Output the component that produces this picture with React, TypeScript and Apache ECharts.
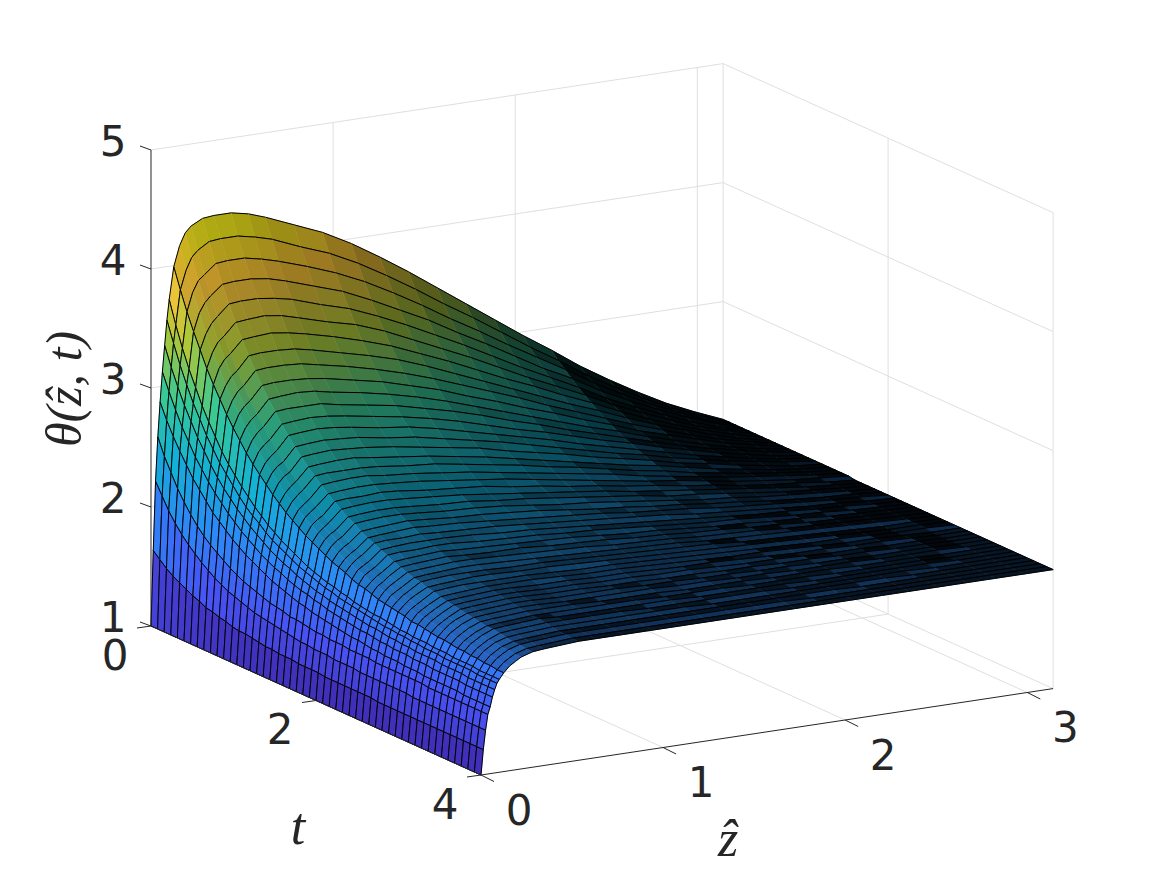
import React, { useEffect, useRef } from "react";
import * as echarts from "echarts";

// Axis ticks
const zTicks = [0, 1, 2, 3];
const tTicks = [0, 2, 4];
const thetaTicks = [1, 2, 3, 4, 5];
const zMax = Math.PI;
const tMax = 4;
const thetaMin = 1;
const thetaMax = 5;

// Mesh nodes
const zNodes = [0, 0.0125, 0.025, 0.0375, 0.05, 0.0625, 0.075, 0.0875, 0.1, 0.125, 0.157, 0.188, 0.22, 0.283, 0.346, 0.44, 0.534, 0.628, 0.785, 0.942, 1.1, 1.257, 1.414, 1.571, 1.728, 1.885, 2.042, 2.199, 2.356, 2.513, 2.67, 2.827, 2.985, 3.142];
const tNodes = [0, 0.08, 0.16, 0.24, 0.32, 0.4, 0.48, 0.56, 0.64, 0.72, 0.8, 0.88, 0.96, 1.04, 1.12, 1.2, 1.28, 1.36, 1.44, 1.52, 1.6, 1.68, 1.76, 1.84, 1.92, 2, 2.08, 2.16, 2.24, 2.32, 2.4, 2.48, 2.56, 2.64, 2.72, 2.8, 2.88, 2.96, 3.04, 3.12, 3.2, 3.28, 3.36, 3.44, 3.52, 3.6, 3.68, 3.76, 3.84, 3.92, 4];

// theta x 100: one list per z node, each running over tNodes
const thetaByZ = [
[100,100,100,100,100,100,100,100,100,100,100,100,100,100,100,100,100,100,100,100,100,100,100,100,100,100,100,100,100,100,100,100,100,100,100,100,100,100,100,100,100,100,100,100,100,100,100,100,100,100,100],
[163,158,153,149,146,143,140,138,135,134,132,131,129,128,128,127,126,125,125,124,124,124,123,123,123,123,122,122,122,122,122,122,122,122,121,121,121,121,121,121,121,121,121,121,121,121,121,121,121,121,121],
[221,211,201,193,186,180,175,170,166,162,159,156,154,152,150,148,147,146,145,144,143,142,141,141,140,140,140,139,139,139,139,138,138,138,138,138,138,138,138,137,137,137,137,137,137,137,137,137,137,137,137],
[258,244,233,222,213,205,198,192,187,183,179,175,172,169,167,165,163,161,160,159,157,157,156,155,154,154,153,153,153,152,152,152,152,151,151,151,151,151,151,151,151,150,150,150,150,150,150,150,150,150,150],
[287,274,263,253,244,235,228,221,214,209,204,199,195,191,188,185,182,179,177,175,173,171,170,168,167,166,165,164,163,162,162,161,160,160,159,159,159,158,158,158,157,157,157,157,157,157,156,156,156,156,156],
[312,298,285,273,263,253,245,237,230,224,218,213,208,204,200,196,193,190,188,185,183,181,180,178,177,175,174,173,172,171,170,170,169,168,168,167,167,167,166,166,166,165,165,165,165,165,164,164,164,164,164],
[334,318,304,291,280,269,260,251,243,236,230,224,219,214,210,206,202,199,196,194,191,189,187,185,184,182,181,180,179,178,177,176,176,175,174,174,173,173,172,172,172,172,171,171,171,171,170,170,170,170,170],
[355,338,322,308,295,284,273,264,255,248,241,234,228,223,219,214,210,207,204,201,198,196,194,192,190,189,187,186,185,184,183,182,181,180,180,179,179,178,178,177,177,177,176,176,176,176,176,175,175,175,175],
[372,353,336,321,308,295,284,274,264,256,249,242,236,230,225,220,216,212,209,206,203,200,198,196,194,193,191,190,188,187,186,185,185,184,183,182,182,181,181,181,180,180,180,179,179,179,179,178,178,178,178],
[399,382,366,352,339,326,315,305,295,286,278,270,263,257,251,245,240,235,231,227,223,220,217,214,211,209,207,204,202,201,199,197,196,195,194,193,191,191,190,189,188,188,187,186,186,185,185,184,184,183,183],
[416,398,382,367,352,339,328,316,306,297,288,280,273,266,260,254,248,243,239,235,231,227,224,221,218,215,213,211,209,206,205,203,202,200,199,198,197,196,195,194,193,193,192,191,191,190,190,189,189,188,188],
[426,408,391,375,360,347,335,323,313,303,294,286,278,271,265,259,253,248,243,239,235,231,228,225,222,219,217,214,212,210,208,207,205,204,203,201,200,199,198,197,197,196,195,194,194,193,193,192,192,191,191],
[431,413,395,380,365,351,339,327,317,307,298,290,282,275,268,262,257,252,247,243,238,235,231,228,225,222,220,217,215,213,212,210,208,207,206,204,203,202,201,200,200,199,198,197,197,196,196,195,195,194,194],
[436,419,403,388,374,361,349,338,328,318,309,301,293,286,279,273,267,262,257,252,248,244,240,237,233,230,228,225,223,220,218,216,214,213,211,210,208,207,206,205,204,203,202,201,201,200,199,198,198,197,197],
[437,420,404,389,375,362,350,339,329,319,310,302,294,287,280,274,268,263,258,253,249,245,241,238,234,231,229,226,224,221,219,217,215,214,212,211,209,208,207,206,205,204,203,202,202,201,200,199,199,198,198],
[437,420,404,389,375,363,351,339,329,319,311,302,295,288,281,275,269,263,259,254,249,246,242,239,235,232,229,227,224,222,220,218,216,215,213,212,210,209,208,207,206,205,204,203,203,202,201,200,200,199,199],
[434,417,401,387,373,361,349,338,328,318,310,302,294,287,280,274,269,263,259,254,250,246,242,239,236,233,230,227,225,223,221,219,217,215,214,212,211,210,209,208,207,206,205,204,204,203,202,201,201,200,200],
[429,413,397,383,370,357,346,335,325,316,307,299,292,285,279,273,267,262,257,253,249,245,241,238,235,232,229,227,225,222,220,219,217,215,214,212,211,210,209,208,207,206,205,204,203,203,202,201,201,200,200],
[419,403,389,375,362,350,340,329,320,311,303,295,288,281,275,270,264,259,255,251,246,243,239,236,233,231,228,226,223,221,219,218,216,214,213,212,211,209,208,207,206,205,205,204,203,203,202,201,201,200,200],
[409,394,380,367,355,344,333,323,314,306,298,291,284,278,272,266,261,257,252,248,244,241,238,235,232,229,227,224,222,220,219,217,215,214,213,211,210,209,208,207,206,205,204,204,203,203,202,201,201,200,200],
[396,382,369,356,345,335,325,316,307,299,292,285,279,273,267,262,257,253,249,245,242,238,235,233,230,227,225,223,221,219,217,216,214,213,212,210,209,208,207,206,206,205,204,204,203,202,202,201,201,200,200],
[381,368,356,344,334,324,315,307,299,292,285,279,273,267,262,258,253,249,245,242,238,235,233,230,228,225,223,221,219,218,216,215,213,212,211,210,209,208,207,206,205,205,204,203,203,202,202,201,201,200,200],
[365,353,342,332,322,313,305,297,290,283,277,272,266,261,257,252,248,245,241,238,235,232,230,227,225,223,221,219,218,216,215,213,212,211,210,209,208,207,206,205,205,204,203,203,202,202,201,201,201,200,200],
[348,337,327,318,310,302,294,287,281,275,269,264,259,255,251,247,243,240,237,234,231,229,227,225,222,221,219,217,216,214,213,212,211,210,209,208,207,206,206,205,204,204,203,203,202,202,201,201,201,200,200],
[331,322,313,305,297,290,283,277,272,266,261,257,253,249,245,242,238,236,233,230,228,226,224,222,220,218,217,215,214,213,212,211,210,209,208,207,206,206,205,204,204,203,203,202,202,202,201,201,201,200,200],
[314,306,298,291,284,278,273,267,262,258,253,249,246,242,239,236,233,231,229,226,224,222,221,219,217,216,215,213,212,211,210,209,208,208,207,206,205,205,204,204,203,203,202,202,202,201,201,201,200,200,200],
[297,290,284,277,272,267,262,257,253,249,245,242,239,236,233,231,228,226,224,222,221,219,217,216,215,214,212,211,210,209,209,208,207,206,206,205,205,204,204,203,203,202,202,202,201,201,201,201,200,200,200],
[281,275,270,265,260,256,252,248,244,241,238,235,233,230,228,226,224,222,220,219,217,216,215,213,212,211,210,209,209,208,207,207,206,205,205,204,204,203,203,203,202,202,202,201,201,201,201,200,200,200,200],
[264,259,255,251,247,244,241,238,235,232,230,228,226,224,222,220,219,217,216,215,214,213,212,211,210,209,208,207,207,206,206,205,205,204,204,203,203,203,202,202,202,202,201,201,201,201,201,200,200,200,200],
[249,245,242,239,236,234,231,229,227,225,223,221,220,218,217,216,214,213,212,211,210,210,209,208,207,207,206,206,205,205,204,204,204,203,203,203,202,202,202,202,201,201,201,201,201,201,200,200,200,200,200],
[235,232,230,228,226,224,222,221,219,218,216,215,214,213,212,211,210,209,209,208,207,207,206,206,205,205,204,204,204,203,203,203,203,202,202,202,202,202,201,201,201,201,201,201,201,200,200,200,200,200,200],
[222,220,219,218,216,215,214,213,212,211,210,210,209,208,208,207,206,206,206,205,205,204,204,204,203,203,203,203,202,202,202,202,202,201,201,201,201,201,201,201,201,201,200,200,200,200,200,200,200,200,200],
[211,210,209,209,208,208,207,206,206,206,205,205,204,204,204,203,203,203,203,203,202,202,202,202,202,202,201,201,201,201,201,201,201,201,201,201,200,200,200,200,200,200,200,200,200,200,200,200,200,200,200],
[201,201,201,201,201,201,201,201,201,201,201,201,201,201,201,201,201,201,201,201,200,200,200,200,200,200,200,200,200,200,200,200,200,200,200,200,200,200,200,200,200,200,200,200,200,200,200,200,200,200,200],
];

const parulaStops = [
  [62, 38, 168], [72, 82, 244], [46, 135, 247], [18, 177, 214],
  [55, 200, 151], [171, 199, 57], [254, 195, 56], [249, 251, 21],
];
const colorLow = 1;
const colorHigh = 4.37;

// Oblique picture of the 3D box
const project = (z: number, t: number, th: number): [number, number] => [
  151 + 182.1 * z + 82.5 * t,
  626 - 27.5 * z + 37.25 * t - 119 * (th - 1),
];
const valueAt = (i: number, j: number) => thetaByZ[i][j] / 100;
const nodePoint = (i: number, j: number) => project(zNodes[i], tNodes[j], valueAt(i, j));

function parula(th: number, gain: number) {
  const f = Math.max(0, Math.min(1, (th - colorLow) / (colorHigh - colorLow))) * (parulaStops.length - 1);
  const k = Math.min(parulaStops.length - 2, Math.floor(f));
  const a = f - k;
  const c = parulaStops[k].map((v, n) => Math.round((v + (parulaStops[k + 1][n] - v) * a) * gain));
  return `rgb(${c[0]},${c[1]},${c[2]})`;
}

// Share of each cell left uncovered by the fine constant-z mesh lines of the original
const fineStep = 0.0128;
const fineColumns = 9;
function uncovered(i: number, j: number) {
  if (i < fineColumns) return 1;
  const a = nodePoint(i, j), b = nodePoint(i + 1, j), c = nodePoint(i, j + 1);
  const s = fineStep / (zNodes[i + 1] - zNodes[i]);
  const ux = (b[0] - a[0]) * s, uy = (b[1] - a[1]) * s;
  const vx = c[0] - a[0], vy = c[1] - a[1];
  const spacing = Math.max(0.01, Math.abs(ux * vy - uy * vx) / Math.max(0.01, Math.hypot(vx, vy)));
  const width = 0.72 + 0.4 * Math.max(0, Math.min(1, 2.2 - spacing));
  return Math.max(0.06, Math.min(1, 1 - width / spacing));
}

// Far cells first, so nearer ones paint over them
const cells: number[][] = [];
for (let j = 0; j < tNodes.length - 1; j++) {
  for (let i = zNodes.length - 2; i >= 0; i--) cells.push([i, j]);
}

type Seg = [number, number, number, number, number, number];
const gridSegs: Seg[] = [];
for (const th of thetaTicks) {
  gridSegs.push([0, 0, th, zMax, 0, th], [zMax, 0, th, zMax, tMax, th]);
}
for (const z of zTicks) {
  if (z > 0) gridSegs.push([z, 0, thetaMin, z, 0, thetaMax], [z, 0, thetaMin, z, tMax, thetaMin]);
}
for (const t of tTicks) {
  gridSegs.push([zMax, t, thetaMin, zMax, t, thetaMax]);
  if (t < tMax) gridSegs.push([0, t, thetaMin, zMax, t, thetaMin]);
}
const axisSegs: Seg[] = [
  [0, 0, thetaMin, 0, 0, thetaMax],
  [0, 0, thetaMin, 0, tMax, thetaMin],
  [0, tMax, thetaMin, zMax, tMax, thetaMin],
];

const tickColor = "#262626";
const tickFont = "DejaVu Sans";
const mathFont = "Liberation Serif";

function segmentItem(list: Seg[], color: string, width: number) {
  return (params: any, api: any) => {
    const s = list[params.dataIndex];
    const a = api.coord(project(s[0], s[1], s[2]));
    const b = api.coord(project(s[3], s[4], s[5]));
    return {
      type: "line",
      shape: { x1: a[0], y1: a[1], x2: b[0], y2: b[1] },
      style: { stroke: color, lineWidth: width, fill: "none" },
    };
  };
}

function surfaceItem(params: any, api: any) {
  const [i, j] = cells[params.dataIndex];
  const p00 = api.coord(nodePoint(i, j));
  const p10 = api.coord(nodePoint(i + 1, j));
  const p11 = api.coord(nodePoint(i + 1, j + 1));
  const p01 = api.coord(nodePoint(i, j + 1));
  const mean = (valueAt(i, j) + valueAt(i + 1, j) + valueAt(i, j + 1) + valueAt(i + 1, j + 1)) / 4;
  const fill = parula(mean, uncovered(i, j));
  const black = { stroke: "#000", lineWidth: 1, fill: "none" };
  const edge = (a: number[], b: number[]) => ({
    type: "line",
    shape: { x1: a[0], y1: a[1], x2: b[0], y2: b[1] },
    style: black,
  });
  const children: any[] = [
    { type: "polygon", shape: { points: [p00, p10, p11, p01] }, style: { fill, stroke: fill, lineWidth: 0.6 } },
    edge(p00, p10),
    edge(p01, p11),
  ];
  if (i <= fineColumns) children.push(edge(p00, p01));
  if (i < fineColumns) children.push(edge(p10, p11));
  if (i === zNodes.length - 2) children.push(edge(p10, p11));
  return { type: "group", children };
}

function tickItem(text: string[], points: [number, number, number][], dx: number, dy: number) {
  return (params: any, api: any) => {
    const n = params.dataIndex;
    const c = api.coord(project(points[n][0], points[n][1], points[n][2]));
    return {
      type: "text",
      x: c[0] + dx,
      y: c[1] + dy,
      style: { text: text[n], fill: tickColor, font: `42px "${tickFont}"`, align: "center", verticalAlign: "middle" },
    };
  };
}

const tickLine = (x: number, y: number, dx: number, dy: number) => ({ x, y, dx, dy });
const tickLines = [
  ...thetaTicks.map((th) => { const p = project(0, 0, th); return tickLine(p[0], p[1], -11, -4); }),
  ...tTicks.map((t) => { const p = project(0, t, thetaMin); return tickLine(p[0], p[1], -14, 2); }),
  ...zTicks.map((z) => { const p = project(z, tMax, thetaMin); return tickLine(p[0], p[1], 13, 6.5); }),
];

export default function App() {
  const ref = useRef<HTMLDivElement>(null);
  useEffect(() => {
    const chart = echarts.init(ref.current!, null, { renderer: "svg" });
    const zero = (list: any[]) => list.map(() => [0, 0]);
    chart.setOption({
      animation: false,
      backgroundColor: "#ffffff",
      grid: { left: 0, right: 0, top: 0, bottom: 0 },
      xAxis: { type: "value", min: 0, max: 1164, show: false },
      yAxis: { type: "value", min: 0, max: 873, inverse: true, show: false },
      series: [
        { type: "custom", silent: true, clip: false, data: zero(gridSegs), renderItem: segmentItem(gridSegs, "#dfdfdf", 1) },
        { type: "custom", silent: true, clip: false, data: cells, renderItem: surfaceItem },
        { type: "custom", silent: true, clip: false, data: zero(axisSegs), renderItem: segmentItem(axisSegs, "#262626", 1) },
        {
          type: "custom", silent: true, clip: false, data: zero(tickLines),
          renderItem: (params: any, api: any) => {
            const s = tickLines[params.dataIndex];
            const a = api.coord([s.x, s.y]);
            const b = api.coord([s.x + s.dx, s.y + s.dy]);
            return { type: "line", shape: { x1: a[0], y1: a[1], x2: b[0], y2: b[1] }, style: { stroke: "#262626", lineWidth: 1 } };
          },
        },
        {
          type: "custom", silent: true, clip: false, data: zero(thetaTicks),
          renderItem: tickItem(thetaTicks.map(String), thetaTicks.map((th) => [0, 0, th] as [number, number, number]), -38, -9),
        },
        {
          type: "custom", silent: true, clip: false, data: zero(tTicks),
          renderItem: tickItem(tTicks.map(String), tTicks.map((t) => [0, t, thetaMin] as [number, number, number]), -36, 29),
        },
        {
          type: "custom", silent: true, clip: false, data: zero(zTicks),
          renderItem: tickItem(zTicks.map(String), zTicks.map((z) => [z, tMax, thetaMin] as [number, number, number]), 38, 35),
        },
      ],
      graphic: [
        { type: "text", x: 64, y: 389, rotation: Math.PI / 2, style: { text: "θ(ẑ, t)", fill: tickColor, font: `italic 50px "${mathFont}"`, align: "center", verticalAlign: "middle" } },
        { type: "text", x: 298, y: 826, style: { text: "t", fill: tickColor, font: `italic 52px "${mathFont}"`, align: "center", verticalAlign: "middle" } },
        { type: "text", x: 728, y: 838, style: { text: "ẑ", fill: tickColor, font: `italic 52px "${mathFont}"`, align: "center", verticalAlign: "middle" } },
      ],
    });
    return () => chart.dispose();
  }, []);
  return <div ref={ref} style={{ position: "fixed", left: 0, top: 0, width: 1164, height: 873 }} />;
}
